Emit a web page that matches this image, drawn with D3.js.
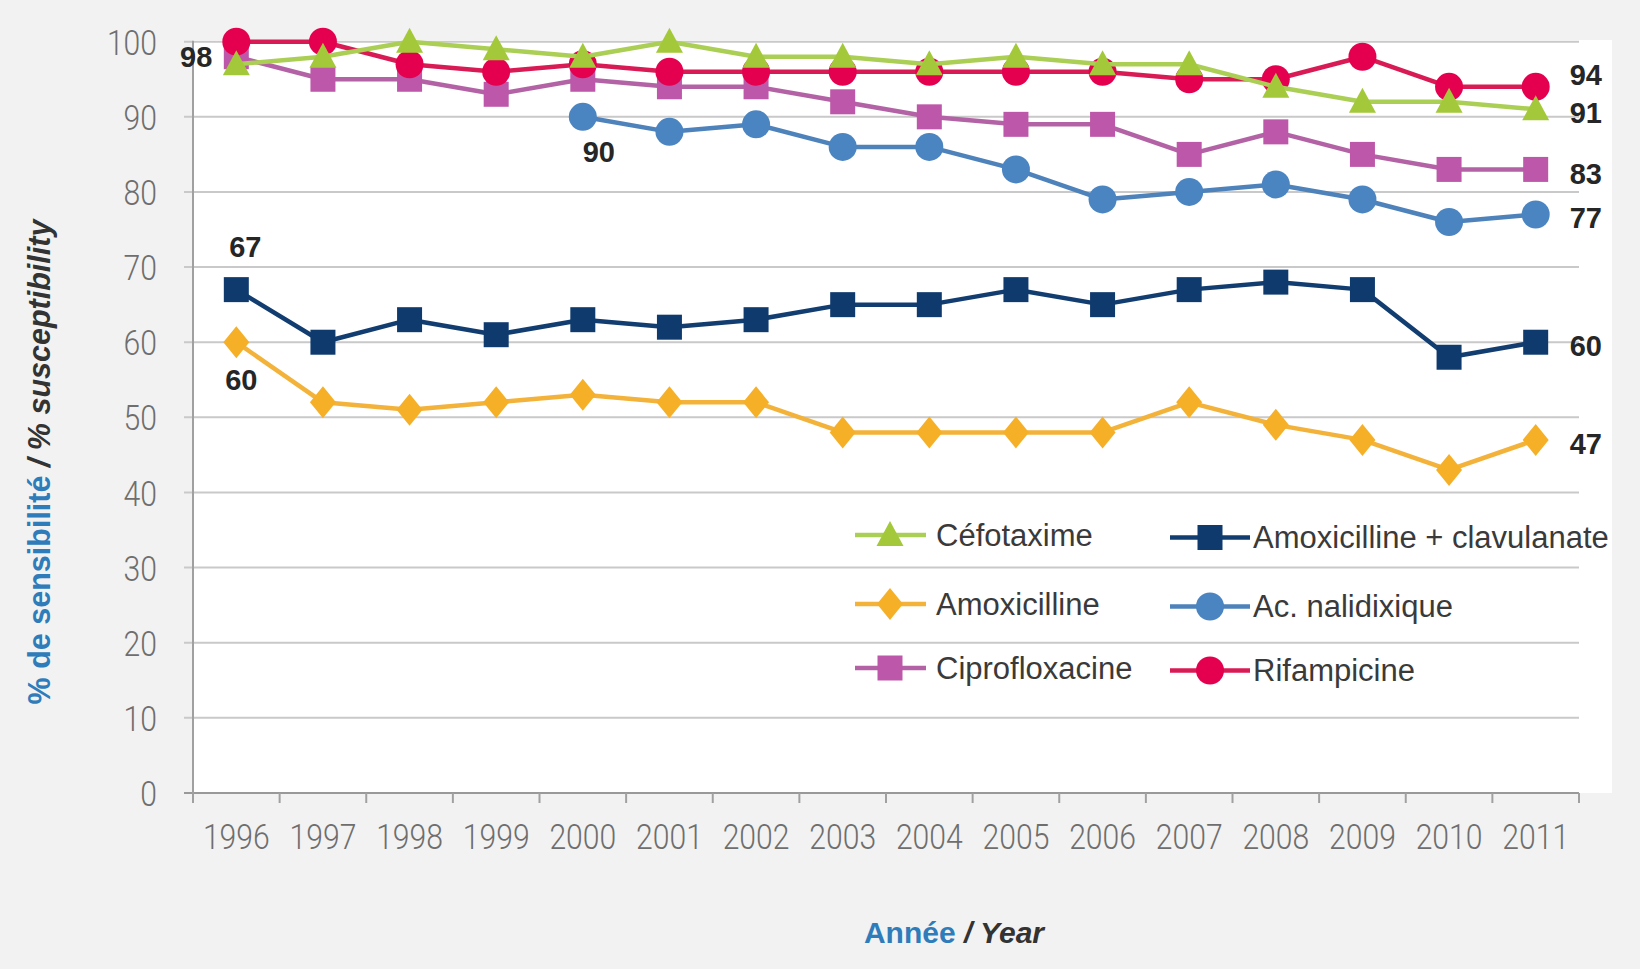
<!DOCTYPE html>
<html>
<head>
<meta charset="utf-8">
<script src="https://cdn.jsdelivr.net/npm/d3@7"></script>
<style>
  html, body { margin: 0; padding: 0; background: #f2f2f2; }
  svg { display: block; }
</style>
</head>
<body>
<svg id="chart" width="1640" height="969"></svg>
<script>
// ---- data -----------------------------------------------------------
const years = [1996, 1997, 1998, 1999, 2000, 2001, 2002, 2003, 2004, 2005, 2006, 2007, 2008, 2009, 2010, 2011];

const cefotaxime     = [97, 98, 100, 99, 98, 100, 98, 98, 97, 98, 97, 97, 94, 92, 92, 91];
const amoxicilline   = [60, 52, 51, 52, 53, 52, 52, 48, 48, 48, 48, 52, 49, 47, 43, 47];
const ciprofloxacine = [98, 95, 95, 93, 95, 94, 94, 92, 90, 89, 89, 85, 88, 85, 83, 83];
const amoxClav       = [67, 60, 63, 61, 63, 62, 63, 65, 65, 67, 65, 67, 68, 67, 58, 60];
const acNalidixique  = [null, null, null, null, 90, 88, 89, 86, 86, 83, 79, 80, 81, 79, 76, 77];
const rifampicine    = [100, 100, 97, 96, 97, 96, 96, 96, 96, 96, 96, 95, 95, 98, 94, 94];

const yTicks = [0, 10, 20, 30, 40, 50, 60, 70, 80, 90, 100];

const seriesNames = ["Céfotaxime", "Amoxicilline", "Ciprofloxacine",
                     "Amoxicilline + clavulanate", "Ac. nalidixique", "Rifampicine"];

// ---- styling -------------------------------------------------------------
const series = [
  { name: seriesNames[0], values: cefotaxime,     color: "#a3c93a", line: "#abcf55", symbol: "triangle" },
  { name: seriesNames[1], values: amoxicilline,   color: "#f6b028", line: "#f3b23a", symbol: "diamond" },
  { name: seriesNames[2], values: ciprofloxacine, color: "#bd57a9", line: "#b363a5", symbol: "square" },
  { name: seriesNames[3], values: amoxClav,       color: "#0e3a6e", line: "#123d70", symbol: "square" },
  { name: seriesNames[4], values: acNalidixique,  color: "#4a84c1", line: "#4e82bb", symbol: "circle" },
  { name: seriesNames[5], values: rifampicine,    color: "#e4004f", line: "#d81b55", symbol: "circle" }
];
const byName = Object.fromEntries(series.map(s => [s.name, s]));

// drawing order (later = on top)
const drawOrder = [seriesNames[3], seriesNames[1], seriesNames[4], seriesNames[2], seriesNames[5], seriesNames[0]];

// value annotations: which point, and where the text sits relative to it
const annotations = [
  { name: seriesNames[2], year: 1996, dx: -24, dy: 0,   anchor: "end" },
  { name: seriesNames[3], year: 1996, dx: 9,   dy: -43, anchor: "middle" },
  { name: seriesNames[1], year: 1996, dx: 5,   dy: 37,  anchor: "middle" },
  { name: seriesNames[4], year: 2000, dx: 16,  dy: 35,  anchor: "middle" },
  { name: seriesNames[5], year: 2011, dx: 34,  dy: -12, anchor: "start" },
  { name: seriesNames[0], year: 2011, dx: 34,  dy: 3,   anchor: "start" },
  { name: seriesNames[2], year: 2011, dx: 34,  dy: 4,   anchor: "start" },
  { name: seriesNames[4], year: 2011, dx: 34,  dy: 3,   anchor: "start" },
  { name: seriesNames[3], year: 2011, dx: 34,  dy: 3,   anchor: "start" },
  { name: seriesNames[1], year: 2011, dx: 34,  dy: 4,   anchor: "start" }
];

// ---- layout --------------------------------------------------------------
const plot = { left: 193, right: 1579, top: 41.7, bottom: 793 };
const svg = d3.select("#chart");

const x = d3.scaleBand().domain(years).range([plot.left, plot.right]);
const cx = yr => x(yr) + x.bandwidth() / 2;
const y = d3.scaleLinear().domain([0, 100]).range([plot.bottom, plot.top]);

const tickFont = "Roboto, 'Liberation Sans', Arial, sans-serif";
const boldFont = "'Liberation Sans', Arial, Helvetica, sans-serif";
const digitW = 16.7;

// page and plot backgrounds
svg.append("rect").attr("width", 1640).attr("height", 969).attr("fill", "#f2f2f2");
svg.append("rect")
  .attr("x", plot.left).attr("y", plot.top - 1.7)
  .attr("width", 1612 - plot.left).attr("height", plot.bottom - plot.top + 1.7)
  .attr("fill", "#ffffff");

// horizontal gridlines
svg.append("g").selectAll("line").data(yTicks).join("line")
  .attr("x1", plot.left - 9).attr("x2", plot.right)
  .attr("y1", d => y(d)).attr("y2", d => y(d))
  .attr("stroke", d => d === 0 ? "#999999" : "#c9c9c9")
  .attr("stroke-width", 2);

// y axis
const yAxis = svg.append("g")
  .attr("transform", `translate(${plot.left},0)`)
  .call(d3.axisLeft(y).tickValues(yTicks).tickSize(0).tickPadding(36));
yAxis.select(".domain").remove();
yAxis.append("line")
  .attr("x1", 0).attr("x2", 0)
  .attr("y1", plot.top - 1).attr("y2", plot.bottom + 10)
  .attr("stroke", "#a0a0a0").attr("stroke-width", 2);
yAxis.selectAll(".tick text")
  .attr("font-family", tickFont).attr("font-weight", 300)
  .attr("font-size", 35).attr("fill", "#6e6e6e")
  .attr("dy", "0.36em")
  .attr("textLength", d => String(d).length * digitW)
  .attr("lengthAdjust", "spacingAndGlyphs");

// x axis: labels centred in each year band, tick marks on band edges
const xAxis = svg.append("g")
  .attr("transform", `translate(0,${plot.bottom})`)
  .call(d3.axisBottom(x).tickSize(0));
xAxis.select(".domain").remove();
xAxis.selectAll(".tick text")
  .attr("font-family", tickFont).attr("font-weight", 300)
  .attr("font-size", 35).attr("fill", "#6e6e6e")
  .attr("y", 56).attr("dy", null)
  .attr("textLength", 4 * digitW)
  .attr("lengthAdjust", "spacingAndGlyphs");
const edges = years.map(yr => x(yr)).concat([x.range()[1]]);
xAxis.selectAll("line.edge").data(edges).join("line")
  .attr("class", "edge")
  .attr("x1", d => d).attr("x2", d => d)
  .attr("y1", 0).attr("y2", 10)
  .attr("stroke", "#a0a0a0").attr("stroke-width", 2);

// ---- marker shapes ------------------------------------------------------
function markerPath(kind) {
  const p = d3.path();
  if (kind === "circle") {
    p.arc(0, 0, 14, 0, 2 * Math.PI);
  } else if (kind === "square") {
    p.rect(-12.5, -12.5, 25, 25);
  } else if (kind === "triangle") {
    p.moveTo(0, -14); p.lineTo(13.5, 11); p.lineTo(-13.5, 11); p.closePath();
  } else if (kind === "diamond") {
    p.moveTo(0, -16); p.lineTo(13, 0); p.lineTo(0, 16); p.lineTo(-13, 0); p.closePath();
  }
  return p.toString();
}

// ---- series ---------------------------------------------------------------
const line = d3.line()
  .defined(d => d.v != null)
  .x(d => cx(d.year))
  .y(d => y(d.v));

const seriesG = svg.append("g");
drawOrder.forEach(name => {
  const s = byName[name];
  const pts = years.map((yr, i) => ({ year: yr, v: s.values[i] }));
  const g = seriesG.append("g");
  g.append("path")
    .datum(pts)
    .attr("d", line)
    .attr("fill", "none")
    .attr("stroke", s.line)
    .attr("stroke-width", 4.5)
    .attr("stroke-linejoin", "round");
  g.selectAll("path.mk").data(pts.filter(d => d.v != null)).join("path")
    .attr("class", "mk")
    .attr("d", markerPath(s.symbol))
    .attr("transform", d => `translate(${cx(d.year)},${y(d.v)})`)
    .attr("fill", s.color);
});

// ---- value labels -------------------------------------------------------
svg.append("g").selectAll("text").data(annotations).join("text")
  .attr("x", a => cx(a.year) + a.dx)
  .attr("y", a => y(byName[a.name].values[years.indexOf(a.year)]) + a.dy)
  .attr("dy", "0.36em")
  .attr("text-anchor", a => a.anchor)
  .attr("font-family", boldFont).attr("font-weight", "bold")
  .attr("font-size", 29).attr("fill", "#262626")
  .text(a => byName[a.name].values[years.indexOf(a.year)]);

// ---- legend -----------------------------------------------------------------
const legendCols = [
  { names: [seriesNames[0], seriesNames[1], seriesNames[2]], x0: 855, x1: 926, mx: 890, tx: 936, yOff: 0 },
  { names: [seriesNames[3], seriesNames[4], seriesNames[5]], x0: 1170, x1: 1250, mx: 1210, tx: 1253, yOff: 2.5 }
];
const legendRows = [535, 604, 668];
const legend = svg.append("g");
legendCols.forEach(col => {
  col.names.forEach((name, r) => {
    const s = byName[name];
    const ly = legendRows[r] + col.yOff;
    const g = legend.append("g");
    g.append("line")
      .attr("x1", col.x0).attr("x2", col.x1).attr("y1", ly).attr("y2", ly)
      .attr("stroke", s.line).attr("stroke-width", 4.5);
    g.append("path")
      .attr("d", markerPath(s.symbol))
      .attr("transform", `translate(${col.mx},${ly})`)
      .attr("fill", s.color);
    g.append("text")
      .attr("x", col.tx).attr("y", ly).attr("dy", "0.35em")
      .attr("font-family", "'Liberation Sans', Arial, Helvetica, sans-serif")
      .attr("font-size", 31).attr("fill", "#3a3a3a")
      .text(name);
  });
});

// ---- axis titles ----------------------------------------------------------
const yTitle = svg.append("text")
  .attr("transform", "translate(50,462) rotate(-90)")
  .attr("text-anchor", "middle")
  .attr("font-family", boldFont).attr("font-weight", "bold").attr("font-size", 30.5);
yTitle.append("tspan").attr("fill", "#2f7cba").text("% de sensibilité");
yTitle.append("tspan").attr("fill", "#333333").attr("font-style", "italic").text(" / % susceptibility");

const xTitle = svg.append("text")
  .attr("x", 954).attr("y", 943)
  .attr("text-anchor", "middle")
  .attr("font-family", boldFont).attr("font-weight", "bold").attr("font-size", 30);
xTitle.append("tspan").attr("fill", "#2f7cba").text("Année");
xTitle.append("tspan").attr("fill", "#333333").attr("font-style", "italic").text(" / Year");
</script>
</body>
</html>
